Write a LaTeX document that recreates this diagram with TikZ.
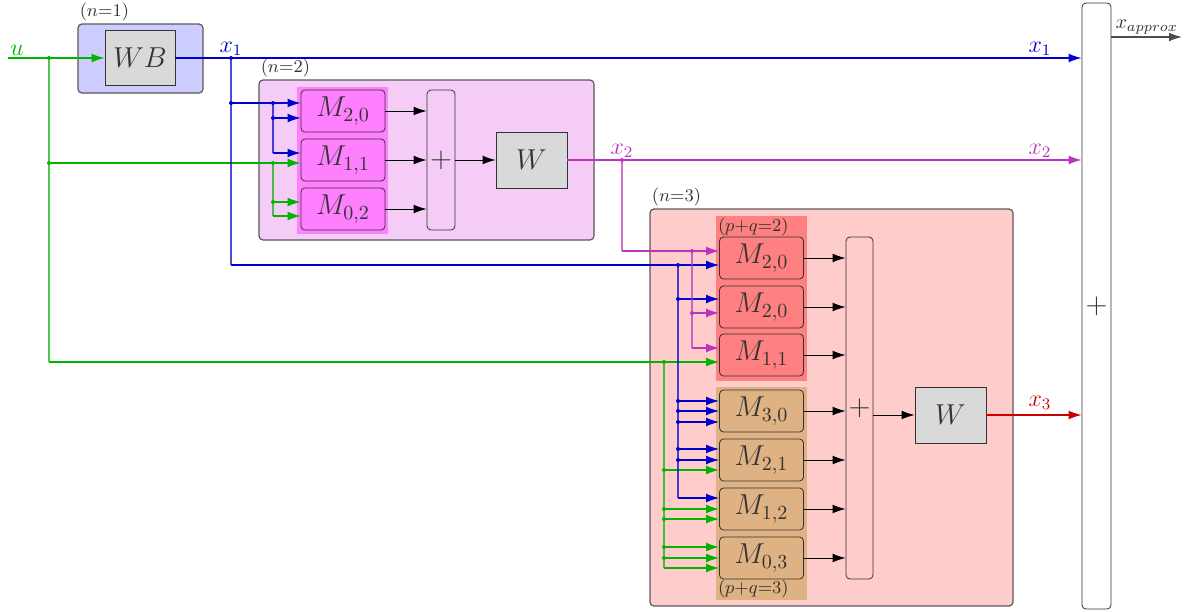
\documentclass[tikz,border=0pt]{standalone}
\usetikzlibrary{arrows.meta,calc}

\definecolor{sigblue}{RGB}{0,0,204}
\definecolor{siggreen}{RGB}{0,180,0}
\definecolor{sigmag}{RGB}{190,50,190}
\definecolor{sigred}{RGB}{204,0,0}
\definecolor{pqtan}{RGB}{222,178,130}
\definecolor{pqpink}{RGB}{255,128,255}
\definecolor{framepink}{RGB}{245,204,245}
\newcommand{\blkfont}{\fontsize{14.4}{17}\selectfont}

\begin{document}
\begin{tikzpicture}[
    x=0.5pt, y=-0.5pt,
    every node/.style={text=black!80},
    frame/.style={draw=black!65, line width=0.6pt, rounded corners=2pt, inner sep=0pt},
    blk/.style={draw=black!80, fill=gray!30, inner sep=0pt, font=\blkfont,
        minimum width=35.5pt, minimum height=28pt},
    mbox/.style={draw=black!80, rounded corners=2pt, inner sep=0pt, font=\blkfont,
        minimum width=42pt, minimum height=21pt},
    sumbox/.style={draw=black!80, rounded corners=2pt, inner sep=0pt, font=\blkfont},
    tag/.style={font=\small, inner sep=1pt},
    sig/.style={line width=0.6pt},
    arr/.style={-{Latex[length=6.5pt,width=4.4pt]}},
    vert/.style={draw opacity=0.7},
    ksig/.style={line width=0.5pt, black},
    bsig/.style={sig, sigblue},
    gsig/.style={sig, siggreen},
    msig/.style={sig, sigmag},
    rsig/.style={sig, sigred},
]
\useasboundingbox (0,0) rectangle (1184,611);

% Block columns
\def\xMa{343}    % M blocks, n=2
\def\xMb{761.5}  % M blocks, n=3

% --- Frames and groups ---
\node[frame, fill=blue!20, minimum width=62.5pt, minimum height=34.5pt] (F1) at (140.5,58.5) {};
\node[tag, anchor=south west] at (F1.north west) {$(n{=}1)$};
\node[frame, fill=framepink, minimum width=167.5pt, minimum height=80pt] (F2) at (426.5,160) {};
\node[tag, anchor=south west] at (F2.north west) {$(n{=}2)$};
\node[frame, fill=red!20, minimum width=181.5pt, minimum height=198.5pt] (F3) at (831.5,407.5) {};
\node[tag, anchor=south west] at (F3.north west) {$(n{=}3)$};

\node[fill=pqpink, minimum width=45.5pt, minimum height=73.5pt, inner sep=0pt] (GA) at (342.5,160.5) {};
\node[fill=red!50, minimum width=45.5pt, minimum height=82.5pt, inner sep=0pt] (GB) at (761.5,298.5) {};
\node[tag, anchor=north west] at (GB.north west) {$(p{+}q{=}2)$};
\node[fill=pqtan, minimum width=45.5pt, minimum height=106.5pt, inner sep=0pt] (GC) at (761.5,493.5) {};
\node[tag, anchor=south west] at (GC.south west) {$(p{+}q{=}3)$};

% --- Blocks ---
\node[blk, minimum width=35pt, minimum height=27.5pt] (WB) at (140,58) {$WB$};

\node[mbox, fill=pqpink] (A20) at (\xMa,111) {$M_{2,0}$};
\node[mbox, fill=pqpink] (A11) at (\xMa,160) {$M_{1,1}$};
\node[mbox, fill=pqpink] (A02) at (\xMa,209) {$M_{0,2}$};
\node[sumbox, minimum width=14pt, minimum height=70pt] (SA) at (441,160) {$+$};
\node[blk] (WA) at (531.5,160) {$W$};

\node[mbox, fill=red!50] (B20) at (\xMb,258) {$M_{2,0}$};
\node[mbox, fill=red!50] (B20r) at (\xMb,307) {$M_{2,0}$};
\node[mbox, fill=red!50] (B11) at (\xMb,355) {$M_{1,1}$};
\node[mbox, fill=pqtan] (B30) at (\xMb,411) {$M_{3,0}$};
\node[mbox, fill=pqtan] (B21) at (\xMb,460) {$M_{2,1}$};
\node[mbox, fill=pqtan] (B12) at (\xMb,509) {$M_{1,2}$};
\node[mbox, fill=pqtan] (B03) at (\xMb,558) {$M_{0,3}$};
\node[sumbox, minimum width=13.5pt, minimum height=171pt] (SB) at (859.5,408) {$+$};
\node[blk] (WC) at (950.5,415) {$W$};

\node[sumbox, fill=white, minimum width=14.5pt, minimum height=303pt] (SUM) at (1096.5,306) {$+$};

% --- Junctions ---
\coordinate (u0) at (8,58);
\coordinate (g1) at (49,58);
\coordinate (g2) at (49,163);
\coordinate (g3) at (49,362);
\coordinate (g4) at (273,163);
\coordinate (g5) at (273,202);
\coordinate (g6) at (273,216);
\coordinate (g7) at (664,362);
\coordinate (g8) at (664,568);
\coordinate (b1) at (231,58);
\coordinate (b2) at (231,103);
\coordinate (b3) at (231,265);
\coordinate (b4) at (273,103);
\coordinate (b5) at (273,118);
\coordinate (b6) at (273,153);
\coordinate (b7) at (678,265);
\coordinate (b8) at (678,498);
\coordinate (m1) at (622,160);
\coordinate (m0) at (622,251);
\coordinate (m2) at (692,251);
\coordinate (m3) at (692,313);
\coordinate (m4) at (692,348);
\coordinate (xo) at (1182,37);

% --- Input u ---
\node[anchor=south west, inner sep=1pt, font=\large, text=siggreen] at (u0) {$u$};
\draw[gsig, arr] (u0) -- (WB.west);
\draw[gsig, vert] (g1) -- (g3);
\draw[gsig, arr] (g2) -- (g2 -| A11.west);
\draw[gsig, arr] (g3) -- (g3 -| B11.west);
\draw[gsig, vert] (g4) -- (g6);
\draw[gsig, arr] (g5) -- (g5 -| A02.west);
\draw[gsig, arr] (g6) -- (g6 -| A02.west);
\draw[gsig, vert] (g7) -- (g8);
\foreach \y/\m in {470/B21, 509/B12, 519/B12, 547/B03, 558/B03, 568/B03} {
    \coordinate (t) at (664,\y);
    \draw[gsig, arr] (t) -- (t -| \m.west);
}

% --- x1 ---
\draw[bsig, arr] (WB.east) -- (WB.east -| SUM.west);
\node[above, inner sep=1pt, font=\large, text=sigblue] at (b1) {$x_1$};
\node[above, inner sep=1pt, font=\large, text=sigblue] at (1040,58) {$x_1$};
\draw[bsig, vert] (b1) -- (b3);
\draw[bsig, arr] (b2) -- (b2 -| A20.west);
\draw[bsig, arr] (b3) -- (b3 -| B20.west);
\draw[bsig, vert] (b4) -- (b6);
\draw[bsig, arr] (b5) -- (b5 -| A20.west);
\draw[bsig, arr] (b6) -- (b6 -| A11.west);
\draw[bsig, vert] (b7) -- (b8);
\foreach \y/\m in {299/B20r, 401/B30, 411/B30, 422/B30, 449/B21, 460/B21, 498/B12} {
    \coordinate (t) at (678,\y);
    \draw[bsig, arr] (t) -- (t -| \m.west);
}

% --- x2 ---
\draw[msig, arr] (WA.east) -- (WA.east -| SUM.west);
\node[above, inner sep=1pt, font=\large, text=sigmag] at (m1) {$x_2$};
\node[above, inner sep=1pt, font=\large, text=sigmag] at (1040,160) {$x_2$};
\draw[msig, vert] (m1) -- (m0);
\draw[msig, arr] (m0) -- (m0 -| B20.west);
\draw[msig, vert] (m2) -- (m4);
\draw[msig, arr] (m3) -- (m3 -| B20r.west);
\draw[msig, arr] (m4) -- (m4 -| B11.west);

% --- Sums and weights ---
\foreach \m in {A20, A11, A02}
    \draw[ksig, arr] (\m.east) -- (\m.east -| SA.west);
\foreach \m in {B20, B20r, B11, B30, B21, B12, B03}
    \draw[ksig, arr] (\m.east) -- (\m.east -| SB.west);
\draw[ksig, arr] (SA.east) -- (WA.west);
\draw[ksig, arr] (SB.east |- WC.west) -- (WC.west);

% --- x3 and output ---
\draw[rsig, arr] (WC.east) -- (WC.east -| SUM.west);
\node[above, inner sep=1pt, font=\large, text=sigred] at (1040,412) {$x_3$};
\draw[line width=0.6pt, black!70, arr] (SUM.east |- xo) -- (xo)
    node[midway, above, inner sep=1pt] {$x_{approx}$};

% --- Dots ---
\foreach \p in {g1, g2, g4, g5, g7}
    \fill[siggreen] (\p) circle (1pt);
\foreach \y in {470, 509, 519, 547, 558}
    \fill[siggreen] (664,\y) circle (1pt);
\foreach \p in {b1, b2, b4, b5, b7}
    \fill[sigblue] (\p) circle (1pt);
\foreach \y in {299, 401, 411, 422, 449, 460}
    \fill[sigblue] (678,\y) circle (1pt);
\foreach \p in {m1, m2, m3}
    \fill[sigmag] (\p) circle (1pt);

\end{tikzpicture}
\end{document}
